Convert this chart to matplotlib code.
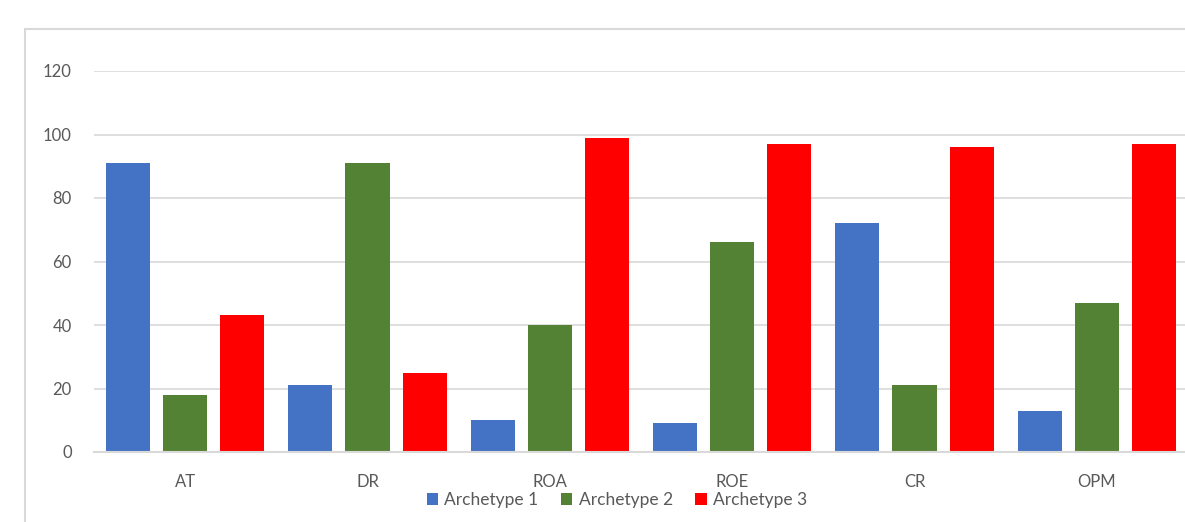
import numpy as np
import matplotlib.pyplot as plt
from matplotlib.patches import Rectangle

# data
categories = ['AT', 'DR', 'ROA', 'ROE', 'CR', 'OPM']
archetype_1 = [91, 21, 10, 9, 72, 13]
archetype_2 = [18, 91, 40, 66, 21, 47]
archetype_3 = [43, 25, 99, 97, 96, 97]
series_names = ['Archetype 1', 'Archetype 2', 'Archetype 3']
colors = ['#4472C4', '#548235', '#FF0000']

plt.rcParams['font.family'] = ['Lato', 'DejaVu Sans']

fig = plt.figure(figsize=(11.85, 5.22), dpi=100)
ax = fig.add_axes([94 / 1185, 70 / 522, 1094 / 1185, 381 / 522])

# outer chart border (runs off the right and bottom edges)
fig.patches.append(Rectangle((25 / 1185, -0.1), 1.2, 1.1 - 29 / 522,
                             transform=fig.transFigure, fill=False,
                             edgecolor='#D9D9D9', linewidth=1.5))

x = np.arange(len(categories))
width = 0.242
step = 0.313
for i, (vals, name, c) in enumerate(zip([archetype_1, archetype_2, archetype_3],
                                        series_names, colors)):
    ax.bar(x + (i - 1) * step, vals, width, color=c, label=name, zorder=3)

ax.set_xlim(-0.5, len(categories) - 0.5)
ax.set_ylim(0, 120)
ax.set_yticks(range(0, 121, 20))
ax.set_xticks(x)
ax.set_xticklabels(categories)
ax.grid(axis='y', color='#D9D9D9', linewidth=1.2, zorder=0)
for s in ['top', 'right', 'left']:
    ax.spines[s].set_visible(False)
ax.spines['bottom'].set_color('#D9D9D9')
ax.spines['bottom'].set_linewidth(1.5)
ax.spines['bottom'].set_zorder(4)
ax.tick_params(axis='both', length=0, colors='#595959', labelsize=12)
ax.tick_params(axis='y', pad=16)
ax.tick_params(axis='x', pad=16)

# legend centred under the whole chart
leg_x = (617 - 94) / 1094
ax.legend(loc='center', bbox_to_anchor=(leg_x, -48 / 381),
          ncol=3, frameon=False, fontsize=12.5, handlelength=0.65,
          handleheight=0.65, handletextpad=0.35, columnspacing=1.3,
          labelcolor='#595959')

fig.savefig('out.png', dpi=100)
